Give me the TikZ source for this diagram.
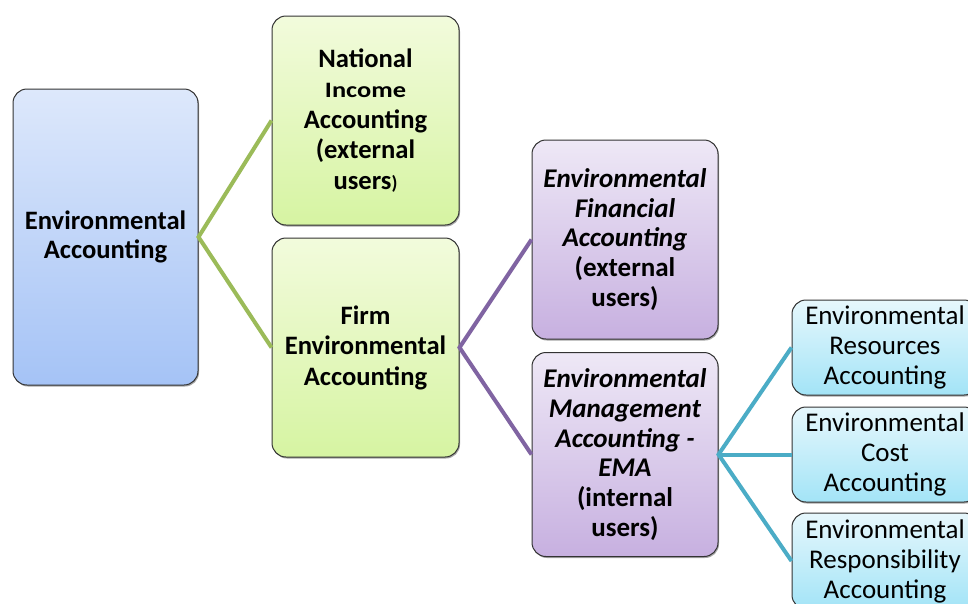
\documentclass[tikz,border=0pt]{standalone}
\usepackage{fontspec}
\usepackage{graphicx}
\setmainfont{Carlito}
\usetikzlibrary{shadows}
\definecolor{gline}{HTML}{9BBB59}
\definecolor{pline}{HTML}{8064A2}
\definecolor{cline}{HTML}{4BACC6}
\definecolor{btop}{HTML}{DDE8FB}
\definecolor{bbot}{HTML}{A5C3F6}
\definecolor{gtop}{HTML}{F2FBDC}
\definecolor{gbot}{HTML}{D6F4A2}
\definecolor{ptop}{HTML}{EEE8F6}
\definecolor{pbot}{HTML}{C7B0E0}
\definecolor{ctop}{HTML}{E6F7FC}
\definecolor{cbot}{HTML}{A3E4F7}
\tikzset{
  box/.style={draw=black!80, line width=1pt, rounded corners=14pt, align=center,
    inner sep=0pt, font=\fontsize{26.5}{30}\selectfont,
    drop shadow={shadow xshift=1pt, shadow yshift=-1.5pt, opacity=0.35, fill=black}},
  bluebox/.style={box, top color=btop, bottom color=bbot, font=\fontsize{26.6}{29.5}\selectfont\bfseries},
  greenbox/.style={box, top color=gtop, bottom color=gbot, font=\fontsize{26.6}{30.5}\selectfont\bfseries},
  purplebox/.style={box, top color=ptop, bottom color=pbot, font=\fontsize{27}{29.8}\selectfont\bfseries},
  cyanbox/.style={box, top color=ctop, bottom color=cbot, font=\fontsize{27}{30}\selectfont},
  gconn/.style={gline, line width=4pt},
  pconn/.style={pline, line width=4pt},
  cconn/.style={cline, line width=4pt}
}
\begin{document}
\begin{tikzpicture}[x=1pt,y=1pt]
\path[use as bounding box, clip] (0,0) rectangle (968,-603);
\fill[white] (0,0) rectangle (968,-603);
% nodes
\node[bluebox, minimum width=185pt, minimum height=296pt] (ea) at (105.5,-237) {Environmental\\Accounting};
\node[greenbox, minimum width=187pt, minimum height=209pt] (nia) at (365.5,-120.5) {National\\\scalebox{1.2}[1]{\fontsize{22}{30}\selectfont Income}\\Accounting\\(external\\users{\fontsize{19}{30}\selectfont)}};
\node[greenbox, minimum width=187pt, minimum height=219pt] (fea) at (365.5,-347.5) {Firm\\Environmental\\Accounting};
\node[purplebox, minimum width=186pt, minimum height=199pt] (efa) at (625,-239.5) {\textit{Environmental}\\\textit{Financial}\\\textit{Accounting}\\(external\\users)};
\node[purplebox, minimum width=186pt, minimum height=204pt] (ema) at (625,-454.5) {\textit{Environmental}\\\textit{Management}\\\textit{Accounting -}\\\textit{EMA}\\(internal\\users)};
\node[cyanbox, minimum width=186pt, minimum height=95pt] (r1) at (885,-347.5) {Environmental\\Resources\\Accounting};
\node[cyanbox, minimum width=186pt, minimum height=95pt] (r2) at (885,-454.5) {Environmental\\Cost\\Accounting};
\node[cyanbox, minimum width=186pt, minimum height=96pt] (r3) at (885,-561) {Environmental\\Responsibility\\Accounting};
% connectors
\draw[gconn] (nia.west) -- (ea.east) -- (fea.west);
\draw[pconn] (efa.west) -- (fea.east) -- (ema.west);
\draw[cconn] (r1.west) -- (ema.east) -- (r3.west);
\draw[cconn] (ema.east) -- (r2.west);
\end{tikzpicture}
\end{document}
